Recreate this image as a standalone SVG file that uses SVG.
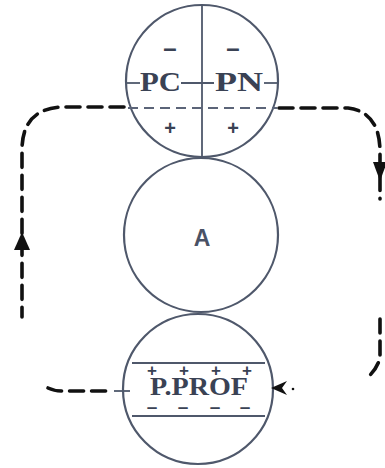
<svg xmlns="http://www.w3.org/2000/svg" width="385" height="468" viewBox="0 0 385 468">
  <style>
    .ring { fill: none; stroke: #4f586b; stroke-width: 2.2; }
    .rule { fill: none; stroke: #4f586b; stroke-width: 1.8; }
    .inner-dash { fill: none; stroke: #5b6478; stroke-width: 2.2; stroke-dasharray: 10 6; }
    .flow { fill: none; stroke: #111; stroke-width: 3.6; stroke-dasharray: 14 8; stroke-linecap: round; }
    .head { fill: #111; }
    .lbl { font-family: "Liberation Serif", "Times New Roman", serif; font-weight: bold; fill: #3a4254; }
    .sign { font-family: "Liberation Sans", Arial, sans-serif; font-weight: bold; fill: #3a4254; text-anchor: middle; }
    .sans { font-family: "Liberation Sans", Arial, sans-serif; font-weight: bold; fill: #4a5265; }
  </style>

  <!-- upper cell: PC / PN split -->
  <g id="node-pc-pn">
    <circle class="ring" cx="202" cy="81" r="76"/>
    <line class="rule" x1="202" y1="5" x2="202" y2="157"/>
    <line class="rule" x1="126" y1="83" x2="140" y2="83"/>
    <line class="rule" x1="181" y1="83" x2="214" y2="83"/>
    <line class="rule" x1="264" y1="83" x2="278" y2="83"/>
    <line class="inner-dash" x1="128" y1="108" x2="277" y2="108"/>
    <text class="lbl" x="140" y="91" font-size="28" textLength="41" lengthAdjust="spacingAndGlyphs">PC</text>
    <text class="lbl" x="215" y="91" font-size="28" textLength="48" lengthAdjust="spacingAndGlyphs">PN</text>
    <text class="sign" x="170" y="56" font-size="24">–</text>
    <text class="sign" x="233" y="56" font-size="24">–</text>
    <text class="sign" x="170" y="135" font-size="20">+</text>
    <text class="sign" x="233" y="135" font-size="20">+</text>
  </g>

  <!-- middle cell -->
  <g id="node-a">
    <circle class="ring" cx="201" cy="235" r="77"/>
    <text class="sans" x="202" y="246" font-size="23" text-anchor="middle">A</text>
  </g>

  <!-- lower cell: P.PROF band -->
  <g id="node-pprof">
    <circle class="ring" cx="198" cy="389" r="75"/>
    <line class="rule" x1="132" y1="363" x2="265" y2="363"/>
    <line class="rule" x1="132" y1="416" x2="265" y2="416"/>
    <line class="rule" x1="114" y1="391" x2="130" y2="391"/>
    <text class="lbl" x="150" y="395" font-size="25" textLength="98" lengthAdjust="spacingAndGlyphs">P.PROF</text>
    <text class="sign" x="152" y="376" font-size="17">+</text>
    <text class="sign" x="184" y="376" font-size="17">+</text>
    <text class="sign" x="216" y="376" font-size="17">+</text>
    <text class="sign" x="247" y="376" font-size="17">+</text>
    <text class="sign" x="152" y="413" font-size="19">–</text>
    <text class="sign" x="183" y="413" font-size="19">–</text>
    <text class="sign" x="215" y="413" font-size="19">–</text>
    <text class="sign" x="245" y="413" font-size="19">–</text>
  </g>

  <!-- current loop -->
  <g id="connectors">
    <path class="flow" d="M124,107 H60 Q22,110 22,150 V317"/>
    <polygon class="head" points="22,232 14,250 30,250"/>
    <path class="flow" d="M279,108 H348 Q380,112 380,152 V199"/>
    <polygon class="head" points="380,181 373,162 387,162"/>
    <path class="flow" d="M380,319 V357 Q378,368 367,378"/>
    <path class="flow" d="M48,388 Q54,391 62,391 H112"/>
    <polygon class="head" points="271,388 287,381 282,388 287,395"/>
    <circle class="head" cx="293" cy="389" r="1.3"/>
  </g>
</svg>
